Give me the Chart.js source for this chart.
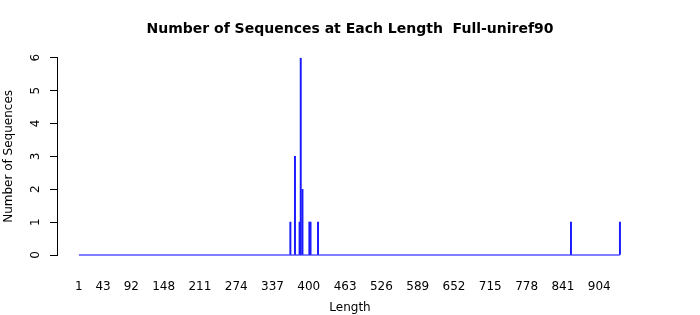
<!DOCTYPE html>
<html>
<head>
<meta charset="utf-8">
<script src="https://cdn.jsdelivr.net/npm/chart.js@4"></script>
<style>
  body { margin: 0; background: #fff; }
  canvas { display: block; }
</style>
</head>
<body>
<canvas id="lenChart" width="700" height="315"></canvas>
<script>
// ----------- Data -----------
const lengths = [368, 376, 384, 386, 389, 401, 403, 416, 855, 940];
const counts = [1, 3, 1, 6, 2, 1, 1, 1, 1, 1];
const xTickLabels = [1, 43, 92, 148, 211, 274, 337, 400, 463, 526, 589, 652, 715, 778, 841, 904];
const yTickLabels = [0, 1, 2, 3, 4, 5, 6];
const lengthRange = [1, 940];

const FONT = 'DejaVu Sans';

// rotated y tick labels, R style
const rotatedYLabels = {
    id: 'rotatedYLabels',
    afterDraw(chart) {
        const ctx = chart.ctx;
        const y = chart.scales.y;
        ctx.save();
        ctx.fillStyle = '#000';
        ctx.font = '12px ' + FONT;
        ctx.textAlign = 'center';
        ctx.textBaseline = 'middle';
        yTickLabels.forEach(v => {
            ctx.save();
            ctx.translate(36, y.getPixelForValue(v));
            ctx.rotate(-Math.PI / 2);
            ctx.fillText(String(v), 0, 0);
            ctx.restore();
        });
        ctx.restore();
    }
};

document.addEventListener('DOMContentLoaded', () => {
    const ctx = document.getElementById('lenChart').getContext('2d');
    new Chart(ctx, {
        type: 'bar',
        data: {
            datasets: [{
                type: 'bar',
                data: lengths.map((l, i) => ({ x: l, y: counts[i] })),
                backgroundColor: '#1a1aff',
                barThickness: 1.3
            }, {
                type: 'line',
                data: lengthRange.map(l => ({ x: l, y: 0 })),
                borderColor: '#0000ff',
                borderWidth: 1.2,
                pointRadius: 0,
                clip: false
            }]
        },
        options: {
            responsive: false,
            animation: false,
            layout: { padding: 0 },
            plugins: {
                legend: { display: false },
                tooltip: { enabled: false },
                title: {
                    display: true,
                    text: 'Number of Sequences at Each Length  Full-uniref90',
                    color: '#000',
                    font: { family: FONT, size: 14, weight: 'bold' },
                    padding: { top: 21, bottom: 20 }
                }
            },
            scales: {
                x: {
                    type: 'linear',
                    min: -37,
                    max: 980,
                    offset: false,
                    afterBuildTicks: s => { s.ticks = xTickLabels.map(v => ({ value: v })); },
                    afterFit: s => { s.height = 60; },
                    grid: { display: false },
                    border: { display: false },
                    ticks: {
                        color: '#000',
                        font: { family: FONT, size: 12 },
                        padding: 17,
                        maxRotation: 0,
                        autoSkip: false
                    },
                    title: {
                        display: true,
                        text: 'Length',
                        color: '#000',
                        font: { family: FONT, size: 12 },
                        padding: 0
                    }
                },
                y: {
                    min: 0,
                    max: 6,
                    ticks: { stepSize: 1, display: false },
                    afterFit: s => { s.width = 57; },
                    grid: {
                        drawOnChartArea: false,
                        drawTicks: true,
                        tickLength: 7,
                        color: '#000'
                    },
                    border: { display: true, color: '#000' },
                    title: {
                        display: true,
                        text: 'Number of Sequences',
                        color: '#000',
                        font: { family: FONT, size: 12 },
                        padding: { top: 2, bottom: 0 }
                    }
                },
                // empty right margin so the plot area matches
                yRight: {
                    position: 'right',
                    min: 0,
                    max: 6,
                    afterFit: s => { s.width = 57; },
                    grid: { display: false },
                    border: { display: false },
                    ticks: { display: false }
                }
            }
        },
        plugins: [rotatedYLabels]
    });
});
</script>
</body>
</html>
